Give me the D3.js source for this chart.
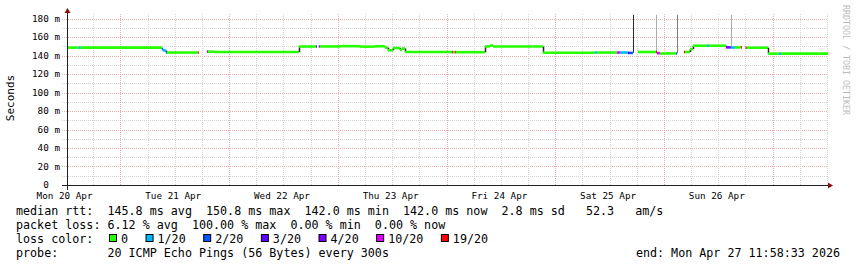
<!DOCTYPE html>
<html>
<head>
<meta charset="utf-8">
<script src="https://cdn.jsdelivr.net/npm/d3@7"></script>
<style>
  body { margin: 0; background: #fff; }
  text { font-family: "DejaVu Sans Mono", monospace; white-space: pre; }
</style>
</head>
<body>
<svg id="chart" width="857" height="267"></svg>
<script>
// median rtt (ms), with the loss out of 20 pings
const medianTimes = [
  "04-20 12:13", "04-20 14:50", "04-20 15:16", "04-21 09:10", "04-21 09:23",
  "04-21 10:03", "04-21 10:16", "04-21 17:06", "04-21 17:19", "04-21 19:06",
  "04-21 19:19", "04-21 20:39", "04-22 15:25", "04-22 19:10", "04-22 19:23",
  "04-22 19:49", "04-22 20:03", "04-23 00:29", "04-23 04:53", "04-23 08:11",
  "04-23 10:24", "04-23 11:03", "04-23 12:10", "04-23 13:43", "04-23 14:09",
  "04-23 14:49", "04-24 01:11", "04-24 01:25", "04-24 01:51", "04-24 02:04",
  "04-24 08:28", "04-24 09:35", "04-24 10:15", "04-24 21:17", "04-25 08:46",
  "04-25 09:12", "04-25 13:37", "04-25 14:17", "04-25 16:03", "04-25 16:29",
  "04-25 17:09", "04-25 18:15", "04-25 22:14", "04-25 22:27", "04-25 23:07",
  "04-26 02:39", "04-26 02:52", "04-26 04:25", "04-26 04:39", "04-26 05:45",
  "04-26 06:24", "04-26 09:30", "04-26 09:56", "04-26 13:41", "04-26 14:47",
  "04-26 15:41", "04-26 16:59", "04-26 17:11", "04-26 17:59", "04-26 18:17",
  "04-26 22:59", "04-27 01:23", "04-27 01:50", "04-27 12:13"
]
const medianValues = [
  148.5, 148.5, 148.5, 146.8, 145.5,
  143.2, 143.2, 143.2, null, 144.2,
  144.2, 143.8, 149.7, 149.7, null,
  149.8, 149.8, 150.1, 149.6, 150.0,
  148.5, 145.6, 148.1, 146.0, 147.6,
  143.8, 143.6, 143.6, 143.6, 143.6,
  149.8, 150.8, 149.7, 143.0, 143.2,
  143.2, 143.2, 143.2, 142.8, 142.8,
  null, 143.8, 143.8, 142.5, 142.2,
  142.2, null, 143.8, 143.8, 147.0,
  150.6, 150.6, 150.6, 148.8, 148.6,
  148.8, 148.8, null, 148.4, 148.4,
  142.0, 142.0, 142.0, 142.0
]
const medianLoss = [
  0, 1, 0, 2, 1,
  2, 0, 19, 0, 4,
  0, 0, 0, 3, 0,
  4, 0, 0, 0, 0,
  0, 0, 0, 0, 0,
  0, 19, 0, 19, 0,
  0, 0, 0, 0, 1,
  0, 10, 1, 3, 2,
  0, 0, 19, 10, 0,
  2, 0, 19, 0, 0,
  0, 1, 0, 4, 1,
  0, 19, 0, 19, 0,
  0, 1, 0, 0
]

// tall smoke spikes (ms) and how many pings made them
const smokeTimes = ["04-25 17:09", "04-25 22:14", "04-26 02:52", "04-26 14:47"]
const smokeLow = [143.0, 142.5, 142.2, 148.6]
const smokeHigh = [184, 184, 184, 184]
const smokePings = [18, 4, 9, 4]

const lossLevels = ["0", "1/20", "2/20", "3/20", "4/20", "10/20", "19/20"]
const lossCounts = [0, 1, 2, 3, 4, 10, 19]
const lossColors = ["#26ff00", "#00b8ff", "#0059ff", "#5e00ff", "#7e00ff", "#dd00ff", "#ff0000"]

const yTickValues = [0, 20, 40, 60, 80, 100, 120, 140, 160, 180]

const statsLines = [
  "median rtt:  145.8 ms avg  150.8 ms max  142.0 ms min  142.0 ms now  2.8 ms sd   52.3   am/s",
  "packet loss: 6.12 % avg  100.00 % max  0.00 % min  0.00 % now"
]
const probeLine = "probe:       20 ICMP Echo Pings (56 Bytes) every 300s"
const endLine = "end: Mon Apr 27 11:58:33 2026"

const parse = d3.timeParse("%Y-%m-%d %H:%M")
const t = s => parse("2026-" + s)

const svg = d3.select("#chart")
svg.append("rect").attr("width", 857).attr("height", 267).attr("fill", "#fff")

const x = d3.scaleTime()
  .domain([t("04-20 12:13"), t("04-27 12:13")])
  .range([67, 828])
const y = d3.scaleLinear().domain([0, 180]).range([185, 18.5])
const px = v => Math.round(v) + 0.5

// grid
const minorGrid = "#d4d4d4", majorGrid = "#eab0b0"
const grid = svg.append("g")
d3.range(10, 181, 10).forEach(v => {
  grid.append("line")
    .attr("x1", 62).attr("x2", 828)
    .attr("y1", px(y(v))).attr("y2", px(y(v)))
    .attr("stroke", v % 20 === 0 ? majorGrid : minorGrid)
    .attr("stroke-dasharray", "1,1")
})
d3.timeHour.every(6).range(x.domain()[0], x.domain()[1]).forEach(d => {
  if (x(d) < 68) return
  grid.append("line")
    .attr("x1", px(x(d))).attr("x2", px(x(d)))
    .attr("y1", 185).attr("y2", 13)
    .attr("stroke", d.getHours() === 0 ? majorGrid : minorGrid)
    .attr("stroke-dasharray", "1,1")
})

// smoke
const shade = d3.scaleLinear().domain([1, 20]).range(["#c4c4c4", "#1e1e1e"])
svg.append("g").selectAll("rect")
  .data(smokeTimes)
  .enter().append("rect")
  .attr("x", d => Math.round(x(t(d))))
  .attr("width", 1)
  .attr("y", (d, i) => y(smokeHigh[i]))
  .attr("height", (d, i) => y(smokeLow[i]) - y(smokeHigh[i]))
  .attr("fill", (d, i) => shade(smokePings[i]))

// median line coloured by loss
const lossColor = n => lossColors[lossCounts.indexOf(n)]
const med = svg.append("g")
for (let i = 0; i < medianTimes.length - 1; i++) {
  const v = medianValues[i]
  if (v === null) continue
  const x0 = x(t(medianTimes[i])), x1 = x(t(medianTimes[i + 1]))
  const prev = i > 0 ? medianValues[i - 1] : null
  if (prev !== null && prev !== v) {
    med.append("line")
      .attr("x1", px(x0)).attr("x2", px(x0))
      .attr("y1", y(prev)).attr("y2", y(v))
      .attr("stroke", Math.abs(prev - v) > 2 ? "#262626" : lossColor(medianLoss[i]))
      .attr("stroke-width", 1.5)
  }
  med.append("line")
    .attr("x1", x0).attr("x2", Math.max(x1, x0 + 1))
    .attr("y1", y(v)).attr("y2", y(v))
    .attr("stroke", lossColor(medianLoss[i]))
    .attr("stroke-width", 2.6)
}

// axes
const axisColor = "#222"
const arrowColor = "#8b1010"
svg.append("line").attr("x1", 62).attr("x2", 830).attr("y1", 185.5).attr("y2", 185.5)
  .attr("stroke", axisColor)
svg.append("line").attr("x1", 67.5).attr("x2", 67.5).attr("y1", 190).attr("y2", 11)
  .attr("stroke", axisColor)
svg.append("path").attr("d", "M828,182.5L833,185.5L828,188.5Z").attr("fill", arrowColor)
svg.append("path").attr("d", "M64.5,13L67.5,8L70.5,13Z").attr("fill", arrowColor)

const yAxis = d3.axisLeft(y)
  .tickValues(yTickValues)
  .tickSize(0)
  .tickPadding(7)
  .tickFormat(d => d === 0 ? "0  " : d + " m")
svg.append("g").attr("transform", "translate(67,0)").call(yAxis)
  .call(g => g.select(".domain").remove())
  .selectAll("text")
  .attr("font-family", "DejaVu Sans Mono")
  .attr("font-size", 9.3)
  .attr("fill", "#000")

const noons = d3.timeDay.range(t("04-20 00:00"), t("04-27 00:00")).map(d => d3.timeHour.offset(d, 12))
const xAxis = d3.axisBottom(x)
  .tickValues(noons)
  .tickSize(0)
  .tickPadding(7)
  .tickFormat(d3.timeFormat("%a %d %b"))
svg.append("g").attr("transform", "translate(-2,185)").call(xAxis)
  .call(g => g.select(".domain").remove())
  .selectAll("text")
  .attr("font-family", "DejaVu Sans Mono")
  .attr("font-size", 9.3)
  .attr("fill", "#000")

svg.append("text")
  .attr("transform", "translate(14,98) rotate(-90)")
  .attr("text-anchor", "middle")
  .attr("font-size", 11)
  .attr("fill", "#000")
  .text("Seconds")

svg.append("text")
  .attr("transform", "translate(843,5) rotate(90)")
  .attr("font-size", 8.3)
  .attr("fill", "#bcbcbc")
  .text("RRDTOOL / TOBI OETIKER")

// legend
const fs = 11.7
const legend = svg.append("g").attr("font-size", fs).attr("fill", "#000")
statsLines.forEach((s, i) => {
  legend.append("text").attr("x", 16).attr("y", 214.5 + i * 14).text(s)
})
legend.append("text").attr("x", 16).attr("y", 242.5).text("loss color:")
let cx = 109
lossLevels.forEach((l, i) => {
  legend.append("rect")
    .attr("x", cx + 0.5).attr("y", 234.5)
    .attr("width", 7).attr("height", 7)
    .attr("fill", lossColors[i]).attr("stroke", "#000")
  const lbl = legend.append("text").attr("x", cx + 12).attr("y", 242.5).text(l)
  cx = cx + 12 + lbl.node().getComputedTextLength() + 17.5
})
legend.append("text").attr("x", 16).attr("y", 256.5).text(probeLine)
legend.append("text").attr("x", 840).attr("y", 256.5).attr("text-anchor", "end").text(endLine)
</script>
</body>
</html>
